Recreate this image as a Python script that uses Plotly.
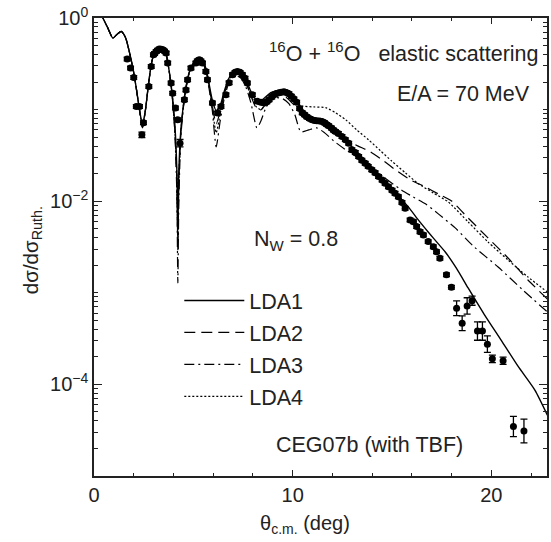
import plotly.graph_objects as go

# ---------------- data ----------------
# experimental points (CEG07b comparison data), theta in deg, dsigma/dsigma_Ruth
theta_exp = [1.67, 1.84, 2.00, 2.13, 2.29, 2.41, 2.49, 2.76, 2.88, 2.99, 3.05, 3.13, 3.20, 3.29, 3.38,
             3.46, 3.55, 3.63, 3.71, 3.88, 3.96, 4.10, 4.21, 4.33, 4.55, 4.63, 4.71, 4.88, 5.13, 5.20,
             5.30, 5.38, 5.46, 5.63, 5.71, 5.96, 6.22, 6.39, 6.64, 6.80, 6.97, 7.10, 7.22, 7.35, 7.47,
             7.60, 7.72, 7.97, 8.22, 8.40, 8.56, 8.70, 8.81, 8.95, 9.06, 9.18, 9.31, 9.43, 9.56, 9.68,
             9.81, 9.93, 10.06, 10.20, 10.35, 10.48, 10.60, 10.71, 10.85, 10.98, 11.10, 11.21, 11.35, 11.48,
             11.60, 11.70, 11.81, 11.95, 12.05, 12.15, 12.30, 12.48, 12.65, 12.82, 12.98, 13.15, 13.32, 13.48,
             13.65, 13.80, 13.98, 14.15, 14.32, 14.50, 14.65, 14.82, 15.00, 15.15, 15.32, 15.50, 15.66, 15.91,
             16.08, 16.24, 16.41, 16.58, 16.82, 17.08, 17.24, 17.41, 17.74, 17.99, 18.25, 18.53, 18.78, 19.03,
             19.30, 19.55, 19.80, 20.05, 20.59, 21.11, 21.64]
sigma_exp = [0.356, 0.284, 0.224, 0.108, 0.108, 0.0531, 0.0718, 0.179, 0.296, 0.397, 0.410, 0.431, 0.445, 0.458, 0.455,
             0.450, 0.435, 0.414, 0.322, 0.195, 0.151, 0.104, 0.0774, 0.0430, 0.128, 0.164, 0.212, 0.284, 0.322, 0.340,
             0.350, 0.340, 0.322, 0.261, 0.212, 0.118, 0.0916, 0.108, 0.145, 0.196, 0.240, 0.255, 0.261, 0.255, 0.240,
             0.220, 0.195, 0.145, 0.123, 0.120, 0.118, 0.122, 0.128, 0.137, 0.145, 0.150, 0.153, 0.155, 0.157, 0.154,
             0.149, 0.140, 0.131, 0.120, 0.103, 0.0923, 0.088, 0.0834, 0.080, 0.0774, 0.076, 0.0755, 0.075, 0.0741,
             0.072, 0.069, 0.0665, 0.063, 0.060, 0.0577, 0.055, 0.0508, 0.047, 0.0430, 0.0364, 0.034, 0.0307, 0.028,
             0.0260, 0.024, 0.0220, 0.0205, 0.0186, 0.0170, 0.0157, 0.0144, 0.0132, 0.0122, 0.0112, 0.0097, 0.00838, 0.00625,
             0.00598, 0.00528, 0.00465, 0.00428, 0.00362, 0.00319, 0.00281, 0.00238, 0.00157, 0.00115, 0.000678, 0.000465, 0.000718, 0.000820,
             0.000382, 0.000382, 0.000275, 0.000190, 0.000181, 3.47e-5, 3.10e-5]
# error bar half-widths in decades (log10 units)
err_exp = [0.02] * 5 + [0.03] + [0.02] * 17 + [0.04] + [0.02] * 88 + [0.08, 0.08, 0.09, 0.05,
           0.10, 0.10, 0.09, 0.04, 0.04, 0.11, 0.13]

# LDA1 (solid)
theta_lda1 = [0.25, 0.45, 0.69, 0.95, 1.14, 1.37, 1.59, 1.79, 1.99, 2.14, 2.29, 2.44, 2.59, 2.74, 2.89,
              3.04, 3.29, 3.49, 3.64, 3.79, 3.94, 4.07, 4.17, 4.22, 4.27, 4.37, 4.50, 4.65, 4.80, 5.05,
              5.30, 5.50, 5.65, 5.80, 5.95, 6.15, 6.35, 6.55, 6.75, 6.95, 7.15, 7.40, 7.65, 7.90, 8.16,
              8.40, 8.65, 8.90, 9.20, 9.51, 9.81, 10.11, 10.41, 10.71, 11.01, 11.31, 11.61, 11.91, 12.31, 12.72,
              13.12, 13.52, 13.92, 14.32, 14.82, 15.32, 15.82, 16.32, 16.82, 17.33, 17.68, 18.23, 18.83, 19.63,
              20.49, 21.34, 22.19, 22.82]
sigma_lda1 = [1.25, 1.0, 0.783, 0.604, 0.657, 0.714, 0.609, 0.418, 0.259, 0.164, 0.0995, 0.0682, 0.0995, 0.187, 0.317,
              0.418, 0.486, 0.473, 0.397, 0.259, 0.145, 0.0682, 0.0220, 0.00511, 0.0209, 0.0601, 0.113, 0.187, 0.259, 0.333,
              0.359, 0.333, 0.272, 0.187, 0.128, 0.0970, 0.110, 0.157, 0.212, 0.246, 0.265, 0.252, 0.212, 0.157, 0.128,
              0.125, 0.138, 0.153, 0.160, 0.160, 0.149, 0.128, 0.105, 0.0900, 0.0813, 0.0774, 0.0736, 0.0649, 0.0543, 0.0445,
              0.0364, 0.0297, 0.0243, 0.0194, 0.0151, 0.0114, 0.00867, 0.00625, 0.00461, 0.00342, 0.00279, 0.00187, 0.00113, 0.000586,
              0.000305, 0.000158, 8.67e-5, 4.61e-5]

# LDA2 (dashed)
theta_lda2 = [0.25, 0.45, 0.69, 0.95, 1.14, 1.37, 1.59, 1.79, 1.99, 2.14, 2.29, 2.44, 2.59, 2.74, 2.89,
              3.04, 3.29, 3.49, 3.64, 3.79, 3.94, 4.07, 4.17, 4.22, 4.27, 4.37, 4.50, 4.65, 4.80, 5.05,
              5.30, 5.50, 5.65, 5.80, 5.95, 6.15, 6.35, 6.55, 6.75, 6.95, 7.15, 7.40, 7.65, 7.90, 8.16,
              8.40, 8.65, 8.90, 9.20, 9.51, 9.81, 10.11, 10.46, 10.86, 11.26, 11.66, 12.11, 12.67, 13.27, 13.92,
              14.57, 15.17, 15.92, 16.68, 17.33, 17.98, 18.83, 19.83, 20.84, 21.84, 22.82]
sigma_lda2 = [1.25, 1.0, 0.783, 0.604, 0.657, 0.714, 0.609, 0.418, 0.259, 0.164, 0.0995, 0.0631, 0.0995, 0.187, 0.317,
              0.418, 0.486, 0.473, 0.397, 0.259, 0.140, 0.0600, 0.0170, 0.00293, 0.0160, 0.0560, 0.110, 0.183, 0.255, 0.325,
              0.350, 0.325, 0.262, 0.178, 0.112, 0.0700, 0.095, 0.145, 0.200, 0.236, 0.252, 0.238, 0.195, 0.140, 0.105,
              0.0995, 0.116, 0.138, 0.149, 0.145, 0.128, 0.110, 0.0923, 0.0793, 0.0736, 0.0665, 0.0571, 0.0468, 0.0402, 0.0346,
              0.0276, 0.0220, 0.0171, 0.0143, 0.0120, 0.0101, 0.00656, 0.00397, 0.00240, 0.00138, 0.000855]

# LDA3 (dash-dot)
theta_lda3 = [0.25, 0.45, 0.69, 0.95, 1.14, 1.37, 1.59, 1.79, 1.99, 2.14, 2.29, 2.44, 2.59, 2.74, 2.89,
              3.04, 3.29, 3.49, 3.64, 3.79, 3.94, 4.07, 4.17, 4.22, 4.27, 4.37, 4.50, 4.65, 4.80, 5.05,
              5.30, 5.50, 5.65, 5.80, 5.95, 6.15, 6.35, 6.55, 6.75, 6.95, 7.15, 7.40, 7.65, 7.90, 8.20,
              8.40, 8.65, 8.90, 9.20, 9.51, 9.81, 10.11, 10.41, 10.81, 11.21, 11.61, 12.06, 12.67, 13.22, 13.82,
              14.57, 15.47, 16.07, 16.68, 17.33, 18.18, 19.08, 20.34, 21.59, 22.82]
sigma_lda3 = [1.25, 1.0, 0.783, 0.604, 0.657, 0.714, 0.609, 0.418, 0.259, 0.164, 0.0995, 0.0640, 0.0995, 0.187, 0.317,
              0.418, 0.486, 0.473, 0.397, 0.255, 0.135, 0.0550, 0.0120, 0.00128, 0.0100, 0.0500, 0.105, 0.178, 0.250, 0.318,
              0.340, 0.315, 0.250, 0.165, 0.100, 0.0392, 0.075, 0.130, 0.185, 0.220, 0.235, 0.220, 0.175, 0.118, 0.0632,
              0.075, 0.105, 0.125, 0.135, 0.131, 0.116, 0.0877, 0.0572, 0.0601, 0.0632, 0.0557, 0.0456, 0.0364, 0.0305, 0.0249,
              0.0184, 0.0133, 0.0111, 0.00935, 0.00727, 0.00511, 0.00325, 0.00191, 0.00107, 0.000617]

# LDA4 (dotted)
theta_lda4 = [0.25, 0.45, 0.69, 0.95, 1.14, 1.37, 1.59, 1.79, 1.99, 2.14, 2.29, 2.44, 2.59, 2.74, 2.89,
              3.04, 3.29, 3.49, 3.64, 3.79, 3.94, 4.07, 4.17, 4.22, 4.27, 4.37, 4.50, 4.65, 4.80, 5.05,
              5.30, 5.50, 5.65, 5.80, 5.95, 6.15, 6.35, 6.55, 6.75, 6.95, 7.15, 7.40, 7.65, 7.90, 8.16,
              8.40, 8.65, 8.90, 9.20, 9.51, 9.81, 10.46, 11.06, 11.66, 12.16, 12.67, 13.22, 13.82, 14.42, 14.97,
              15.67, 16.33, 17.08, 17.83, 18.83, 19.83, 20.84, 21.84, 22.82]
sigma_lda4 = [1.25, 1.0, 0.783, 0.604, 0.657, 0.714, 0.609, 0.418, 0.259, 0.164, 0.0995, 0.0650, 0.0995, 0.187, 0.317,
              0.418, 0.486, 0.473, 0.397, 0.259, 0.142, 0.0620, 0.0180, 0.00378, 0.0170, 0.0570, 0.110, 0.183, 0.255, 0.325,
              0.350, 0.325, 0.262, 0.175, 0.105, 0.0557, 0.090, 0.145, 0.200, 0.236, 0.252, 0.240, 0.198, 0.145, 0.108,
              0.0995, 0.118, 0.140, 0.152, 0.157, 0.142, 0.110, 0.107, 0.105, 0.0923, 0.0774, 0.0601, 0.0468, 0.0355, 0.0276,
              0.0204, 0.0155, 0.0123, 0.00982, 0.00594, 0.00359, 0.00228, 0.00149, 0.00102]

series_names = ["LDA1", "LDA2", "LDA3", "LDA4"]
y_tick_vals = [1, 1e-2, 1e-4]
y_tick_text = ["10<sup>0</sup>", "10<sup>\u22122</sup>", "10<sup>\u22124</sup>"]
x_tick_vals = [0, 10, 20]

# ---------------- figure ----------------
FONT = "Liberation Sans, Arial, Helvetica, sans-serif"
TXT = 21.5
fig = go.Figure()

curves = [
    (theta_lda1, sigma_lda1, "solid", 1.4),
    (theta_lda2, sigma_lda2, "11px,6px", 1.2),
    (theta_lda3, sigma_lda3, "10px,4px,2px,4px", 1.2),
    (theta_lda4, sigma_lda4, "2px,2px", 1.2),
]
for name, (tx, sy, dash, w) in zip(series_names, curves):
    fig.add_trace(go.Scatter(x=tx, y=sy, mode="lines", name=name, legendgroup=name,
                             line=dict(color="black", width=w, dash=dash, shape="spline", smoothing=0.6)))

err_plus = [s * (10 ** e - 1) for s, e in zip(sigma_exp, err_exp)]
err_minus = [s * (1 - 10 ** (-e)) for s, e in zip(sigma_exp, err_exp)]
fig.add_trace(go.Scatter(x=theta_exp, y=sigma_exp, mode="markers", showlegend=False,
                         marker=dict(color="black", size=7),
                         error_y=dict(type="data", symmetric=False, array=err_plus, arrayminus=err_minus,
                                      color="black", thickness=1.3, width=3.5)))

# minor ticks: 2..9 in each decade plus the unlabeled decades
minor_y = [m * 10 ** d for d in range(-5, 0) for m in range(2, 10)] + [1e-1, 1e-3]

fig.update_layout(
    width=551, height=542,
    margin=dict(l=94, r=2, t=18, b=66),
    paper_bgcolor="white", plot_bgcolor="white",
    font=dict(family=FONT, size=20, color="#222"),
    showlegend=True,
    legend=dict(x=0.1883, y=0.428, xanchor="left", yanchor="top", bgcolor="rgba(0,0,0,0)",
                font=dict(size=TXT, family=FONT, color="#222"), tracegroupgap=1, itemwidth=60),
    xaxis=dict(range=[0, 22.8], tickvals=x_tick_vals, ticks="inside", ticklen=6, tickwidth=1.3,
               tickcolor="#222", showline=True, linecolor="#222", linewidth=1.5, mirror="ticks",
               showgrid=False, zeroline=False, tickfont=dict(size=20),
               minor=dict(dtick=2, tick0=0, ticks="inside", ticklen=3, tickwidth=1.1, tickcolor="#222", showgrid=False)),
    yaxis=dict(type="log", range=[-5, 0], tickvals=y_tick_vals, ticktext=y_tick_text, ticks="inside",
               ticklen=8, tickwidth=1.3, tickcolor="#222", showline=True, linecolor="#222", linewidth=1.5,
               mirror="ticks", showgrid=False, zeroline=False, tickfont=dict(size=20),
               minor=dict(tickvals=minor_y, ticks="inside", ticklen=4, tickwidth=1.1, tickcolor="#222", showgrid=False)),
)

annotations = [
    dict(text="<sup>16</sup>O + <sup>16</sup>O\u00a0\u00a0 elastic scattering", x=0.986, y=0.926,
         xanchor="right", yanchor="middle", size=TXT),
    dict(text="E/A = 70 MeV", x=0.966, y=0.8345, xanchor="right", yanchor="middle", size=TXT),
    dict(text="N<sub>W</sub> = 0.8", x=0.3486, y=0.515, xanchor="left", yanchor="middle", size=TXT),
    dict(text="CEG07b (with TBF)", x=0.397, y=0.067, xanchor="left", yanchor="middle", size=TXT),
    dict(text="\u03b8<sub>c.m.</sub> (deg)", x=0.465, y=-0.105, xanchor="center", yanchor="middle", size=20),
    dict(text="d\u03c3/d\u03c3<sub>Ruth.</sub>", x=-0.137, y=0.493, xanchor="center", yanchor="middle",
         textangle=-90, size=20.5),
]
for a in annotations:
    sz = a.pop("size")
    fig.add_annotation(xref="paper", yref="paper", showarrow=False,
                       font=dict(size=sz, family=FONT, color="#222"), **a)

fig.write_html("out.html")
